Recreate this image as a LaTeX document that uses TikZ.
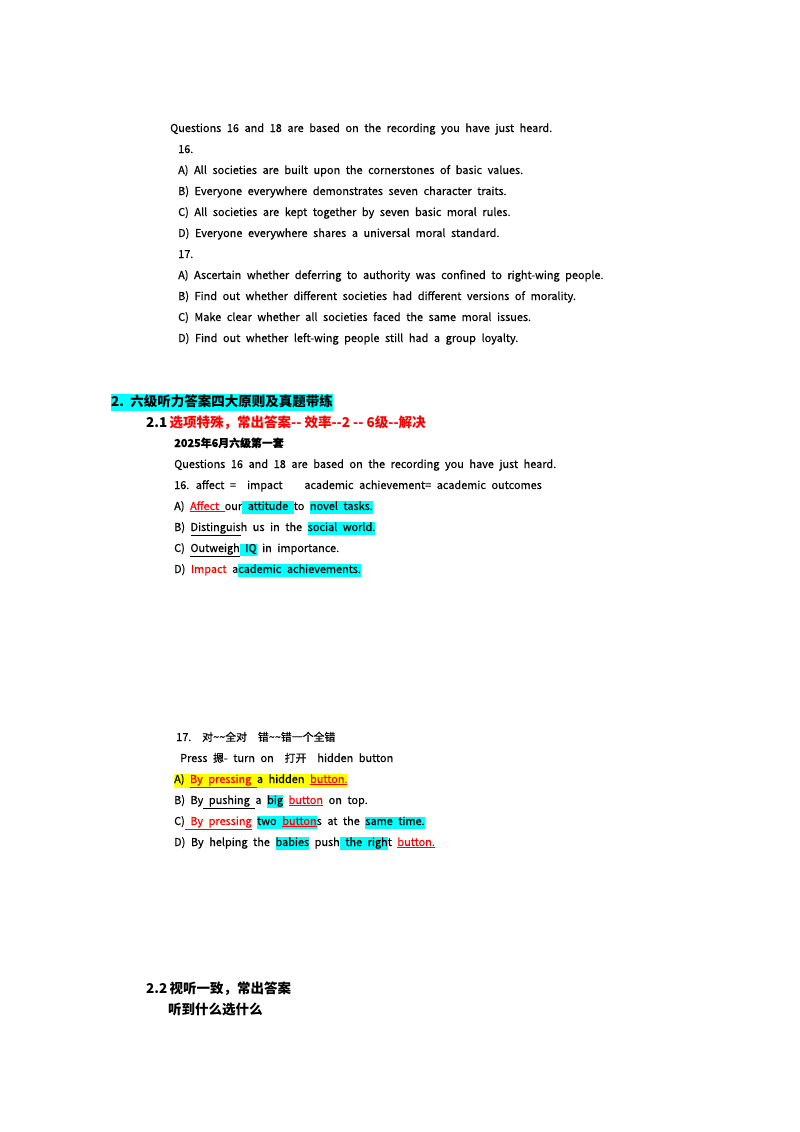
\documentclass[tikz,border=0pt]{standalone}
\usepackage{fontspec}
\setmainfont{Noto Sans CJK SC}
\usetikzlibrary{positioning}
\definecolor{hlcyan}{RGB}{0,255,255}
\definecolor{hlyellow}{RGB}{255,255,0}
\definecolor{ansred}{RGB}{255,0,0}
\newcommand{\hc}[1]{{\setlength{\fboxsep}{0pt}\colorbox{hlcyan}{\strut #1}}}
\newcommand{\hy}[1]{{\setlength{\fboxsep}{0pt}\colorbox{hlyellow}{\strut #1}}}
\newcommand{\rd}[1]{{\color{ansred}#1}}
\newcommand{\ru}[1]{{\color{ansred}\underline{#1}}}
\newcommand{\ku}[1]{\underline{#1}}
\newcommand{\widesp}{\fontsize{10.9}{12}\selectfont\addfontfeature{FakeBold=0.4}\spaceskip=5.6pt plus 1pt\relax}
\begin{document}
\begin{tikzpicture}[x=1pt,y=-1pt,
  line/.style={anchor=base west,inner sep=0pt,font=\widesp},
  head/.style={anchor=base west,inner sep=0pt,font=\fontsize{13.5}{15}\selectfont\bfseries}]
\useasboundingbox (0,0) rectangle (800,1132);
% first block
\node[line] (q1) at (170,132) {Questions 16 and 18 are based on the recording you have just heard.};
\node[line] (n16) at (178,153) {16.};
\node[line] (a16) at (178,174) {A) All societies are built upon the cornerstones of basic values.};
\node[line] (b16) at (178,195) {B) Everyone everywhere demonstrates seven character traits.};
\node[line] (c16) at (178,216) {C) All societies are kept together by seven basic moral rules.};
\node[line] (d16) at (178,237) {D) Everyone everywhere shares a universal moral standard.};
\node[line] (n17) at (178,258) {17.};
\node[line] (a17) at (178,279) {A) Ascertain whether deferring to authority was confined to right-wing people.};
\node[line] (b17) at (178,300) {B) Find out whether different societies had different versions of morality.};
\node[line] (c17) at (178,321) {C) Make clear whether all societies faced the same moral issues.};
\node[line] (d17) at (178,342) {D) Find out whether left-wing people still had a group loyalty.};
% section 2
\node[head] (s2) at (111,406) {\hc{2.\ \ 六级听力答案四大原则及真题带练}};
\node[head] (s21) at (146,427) {2.1\,\rd{选项特殊，常出答案{-}{-} 效率{-}{-}2 {-}{-} 6级{-}{-}解决}};
\node[line] (yr) at (174,447) {\bfseries 2025年6月六级第一套};
\node[line] (q2) at (174,468) {Questions 16 and 18 are based on the recording you have just heard.};
\node[line] (k16) at (174,489) {16. affect =\ \ impact\qquad academic achievement= academic outcomes};
\node[line] (e1) at (174,510) {A) \ru{Affect }our\hc{ attitude }to \hc{novel tasks.}};
\node[line] (e2) at (174,531) {B) \ku{Distinguis}h us in the \hc{social world.}};
\node[line] (e3) at (174,552) {C) \ku{Outweigh}\hc{ IQ} in importance.};
\node[line] (e4) at (174,573) {D) \rd{Impact} a\hc{cademic achievements.}};
% question 17
\node[line] (k17) at (176,741) {17.\quad 对\textasciitilde\textasciitilde 全对\quad 错\textasciitilde\textasciitilde 错一个全错};
\node[line] (pr) at (180,762) {Press 摁- turn on\quad 打开\quad hidden button};
\node[line] (f1) at (174,783) {\hy{A) \ru{By pressing }a hidden \ru{button.}}};
\node[line] (f2) at (174,804) {B) By\ku{ pushing }a \hc{big} \ru{button} on top.};
\node[line] (f3) at (174,825) {C)\ru{ By pressing} \hc{two \ru{button}}s at the \hc{same time.}};
\node[line] (f4) at (174,846) {D) By helping the \hc{babies} push\hc{ the righ}t \ru{button.}};
% section 2.2
\node[head] (s22) at (146,993) {2.2\,视听一致，常出答案};
\node[head] (tg) at (168,1014) {听到什么选什么};
\end{tikzpicture}
\end{document}
